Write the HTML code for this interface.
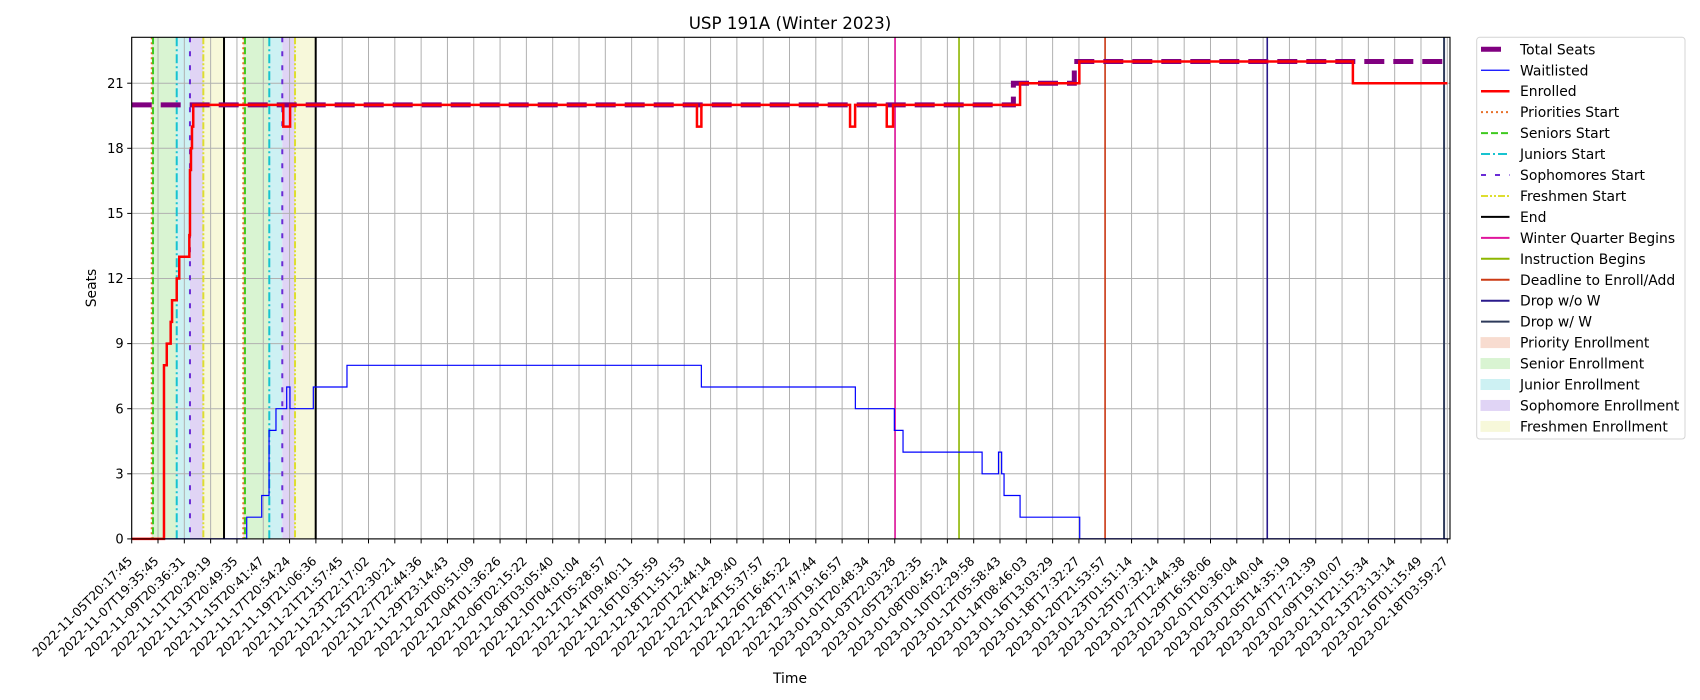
<!DOCTYPE html>
<html><head><meta charset="utf-8"><style>
html,body{margin:0;padding:0;background:#fff;}
svg{display:block;font-family:"DejaVu Sans","Liberation Sans",sans-serif;}
</style></head><body>
<svg id="chart" width="1700" height="700" viewBox="0 0 1700 700" xmlns="http://www.w3.org/2000/svg">
<rect x="0" y="0" width="1700" height="700" fill="#fff"/>
<g id="spans"></g><g id="grid"></g><g id="vlines"></g><g id="series"></g><g id="axes"></g><g id="legend"></g>
</svg>
<script>
// ---- data (x values are days since 2022-11-05T20:17:45) ----
const tickLabels = ["2022-11-05T20:17:45","2022-11-07T19:35:45","2022-11-09T20:36:31","2022-11-11T20:29:19","2022-11-13T20:49:35","2022-11-15T20:41:47","2022-11-17T20:54:24","2022-11-19T21:06:36","2022-11-21T21:57:45","2022-11-23T22:17:02","2022-11-25T22:30:21","2022-11-27T22:44:36","2022-11-29T23:14:43","2022-12-02T00:51:09","2022-12-04T01:36:26","2022-12-06T02:15:22","2022-12-08T03:05:40","2022-12-10T04:01:04","2022-12-12T05:28:57","2022-12-14T09:40:11","2022-12-16T10:35:59","2022-12-18T11:51:53","2022-12-20T12:44:14","2022-12-22T14:29:40","2022-12-24T15:37:57","2022-12-26T16:45:22","2022-12-28T17:47:44","2022-12-30T19:16:57","2023-01-01T20:48:34","2023-01-03T22:03:28","2023-01-05T23:22:35","2023-01-08T00:45:24","2023-01-10T02:29:58","2023-01-12T05:58:43","2023-01-14T08:46:03","2023-01-16T13:03:29","2023-01-18T17:32:27","2023-01-20T21:53:57","2023-01-23T01:51:14","2023-01-25T07:32:14","2023-01-27T12:44:38","2023-01-29T16:58:06","2023-02-01T10:36:04","2023-02-03T12:40:04","2023-02-05T14:35:19","2023-02-07T17:21:39","2023-02-09T19:10:07","2023-02-11T21:15:34","2023-02-13T23:13:14","2023-02-16T01:15:49","2023-02-18T03:59:27"];
const yTicks = [0,3,6,9,12,15,18,21];
const totalX = [0,69.91,74.74,104.32];
const totalY = [20,21,22,22];
const enrolledX = [0,2.56,2.78,3.09,3.20,3.57,3.77,4.57,4.62,4.70,4.78,4.88,12.02,12.56,44.82,45.17,56.96,57.36,59.87,60.37,70.44,75.14,96.83,104.32];
const enrolledY = [0,8,9,10,11,12,13,14,17,18,19,20,19,20,19,20,19,20,19,20,21,22,21,21];
const waitX = [0,9.12,10.31,10.89,11.44,12.29,12.55,14.40,17.07,45.17,57.38,60.47,61.16,67.43,68.73,68.98,69.17,70.44,75.17,104.32];
const waitY = [0,1,2,5,6,7,6,7,8,7,6,5,4,3,4,3,2,1,0,0];
const prioStart = [1.59,8.85];
const seniorStart = [1.69,8.98];
const juniorStart = [3.57,10.91];
const sophStart = [4.62,11.94];
const freshStart = [5.68,12.95];
const endTimes = [7.32,14.59];
const winterBegins = [60.53];
const instrBegins = [65.6];
const deadlineAdd = [77.18];
const dropNoW = [90.04];
const dropW = [104.06];

// ---- axes ----
const L=131.7, R=1450, T=37.3, B=538.9, XMAX=104.53;
const X=d=>L+d*(R-L)/XMAX;
const Y=v=>B-v*21.7;
const FS=13.9, TFS=12.4;
const NS="http://www.w3.org/2000/svg";
function mk(tag,attrs,parent){const e=document.createElementNS(NS,tag);for(const k in attrs)e.setAttribute(k,attrs[k]);parent.appendChild(e);return e;}
const gSp=document.getElementById('spans'),gG=document.getElementById('grid'),gV=document.getElementById('vlines'),gS=document.getElementById('series'),gA=document.getElementById('axes'),gL=document.getElementById('legend');

// spans
const spanDefs=[[prioStart,seniorStart,'#f8dcd0','priority-enrollment-span'],[seniorStart,juniorStart,'#d9f4d2','senior-enrollment-span'],[juniorStart,sophStart,'#cdf1f3','junior-enrollment-span'],[sophStart,freshStart,'#e0d4f5','sophomore-enrollment-span'],[freshStart,endTimes,'#f7f8da','freshmen-enrollment-span']];
spanDefs.forEach(([a,b,c,n])=>{a.forEach((v,i)=>{const r=mk('rect',{x:X(v),y:T,width:X(b[i])-X(v),height:B-T,fill:c},gSp);

});});

// grid
const nT=tickLabels.length, tickStep=(1447.3-L)/(nT-1);
tickLabels.forEach((t,i)=>{const x=L+i*tickStep;
const l=mk('line',{x1:x,x2:x,y1:T,y2:B,stroke:'#b0b0b0','stroke-width':1},gG);


const tk=mk('line',{x1:x,x2:x,y1:B,y2:B+4.5,stroke:'#000','stroke-width':1},gA);


const ax=x+1.5, ay=B+23;
const tx=mk('text',{x:ax,y:ay,'font-size':TFS,'text-anchor':'end',transform:`rotate(-45 ${ax} ${ay})`,fill:'#000'},gA);
tx.textContent=t;

});
yTicks.forEach(v=>{const y=Y(v);
const l=mk('line',{x1:L,x2:R,y1:y,y2:y,stroke:'#b0b0b0','stroke-width':1},gG);


const tk=mk('line',{x1:L-4.5,x2:L,y1:y,y2:y,stroke:'#000','stroke-width':1},gA);


const tx=mk('text',{x:L-8,y:y+4.6,'font-size':TFS+0.6,'text-anchor':'end',fill:'#000'},gA);
tx.textContent=v;

});

// vertical lines
const vDefs=[[prioStart,'#e8702a',2,'2,3','priorities-start-line'],[seniorStart,'#3ec91e',2,'7,3','seniors-start-line'],[juniorStart,'#17c3d0',2,'9,3,2,3','juniors-start-line'],[sophStart,'#6a2bd6',2,'5,9','sophomores-start-line'],[freshStart,'#dede30',2,'7,2,2,2,2,2','freshmen-start-line'],[endTimes,'#000',2,'','end-line'],[winterBegins,'#e0159c',1.6,'','winter-quarter-begins-line'],[instrBegins,'#8db600',1.6,'','instruction-begins-line'],[deadlineAdd,'#cc3a14',1.6,'','deadline-enroll-add-line'],[dropNoW,'#2a1a8c',1.6,'','drop-without-w-line'],[dropW,'#2d3a5a',2,'','drop-with-w-line']];
vDefs.forEach(([arr,c,w,da,n])=>arr.forEach(v=>{const a={x1:X(v),x2:X(v),y1:T,y2:B,stroke:c,'stroke-width':w};if(da)a['stroke-dasharray']=da;
const l=mk('line',a,gV);

}));

// step series
function stepPath(xs,ys){let d=`M${X(xs[0])},${Y(ys[0])}`;for(let i=1;i<xs.length;i++){d+=` H${X(xs[i])} V${Y(ys[i])}`;}return d;}
const pT=mk('path',{d:stepPath(totalX,totalY),fill:'none',stroke:'#800080','stroke-width':5,'stroke-dasharray':'20,9'},gS);


const pW=mk('path',{d:stepPath(waitX,waitY),fill:'none',stroke:'#0000ff','stroke-width':1.2},gS);


const pE=mk('path',{d:stepPath(enrolledX,enrolledY),fill:'none',stroke:'#ff0000','stroke-width':2.5},gS);



// frame & labels
const fr=mk('rect',{x:L,y:T,width:R-L,height:B-T,fill:'none',stroke:'#000','stroke-width':1.1},gA);


const ti=mk('text',{x:790,y:29,'font-size':16.7,'text-anchor':'middle'},gA);ti.textContent='USP 191A (Winter 2023)';


const xl=mk('text',{x:790,y:683,'font-size':FS,'text-anchor':'middle'},gA);xl.textContent='Time';


const yl=mk('text',{x:96,y:288,'font-size':FS,'text-anchor':'middle',transform:'rotate(-90 96 288)'},gA);yl.textContent='Seats';



// legend
const lb=mk('rect',{x:1476.7,y:37.3,width:208.3,height:401.7,rx:3,fill:'#fff',stroke:'#d0d0d0','stroke-width':1,opacity:0.9},gL);


const legendItems=[['Total Seats','line','#800080',5,'20,9'],['Waitlisted','line','#0000ff',1.2,''],['Enrolled','line','#ff0000',2.5,''],['Priorities Start','line','#e8702a',2,'2,3'],['Seniors Start','line','#3ec91e',2,'7,3'],['Juniors Start','line','#17c3d0',2,'9,3,2,3'],['Sophomores Start','line','#6a2bd6',2,'5,9'],['Freshmen Start','line','#dede30',2,'7,2,2,2,2,2'],['End','line','#000',2,''],['Winter Quarter Begins','line','#e0159c',2,''],['Instruction Begins','line','#8db600',2,''],['Deadline to Enroll/Add','line','#cc3a14',2,''],['Drop w/o W','line','#2a1a8c',2,''],['Drop w/ W','line','#2d3a5a',2,''],['Priority Enrollment','patch','#f8dcd0'],['Senior Enrollment','patch','#d9f4d2'],['Junior Enrollment','patch','#cdf1f3'],['Sophomore Enrollment','patch','#e0d4f5'],['Freshmen Enrollment','patch','#f7f8da']];
legendItems.forEach((it,i)=>{const y=49.3+i*20.95;
const g=mk('g',{},gL);


if(it[1]==='line'){const a={x1:1481,x2:1509.5,y1:y,y2:y,stroke:it[2],'stroke-width':it[3]};if(it[4])a['stroke-dasharray']=it[4];if(it[0]==='Total Seats'){a.x2=1502;}mk('line',a,g);}
else{mk('rect',{x:1481,y:y-5,width:28.5,height:10,fill:it[2],stroke:it[2]},g);}
const t=mk('text',{x:1520,y:y+5,'font-size':FS,fill:'#000'},g);t.textContent=it[0];});
</script>
</body></html>
